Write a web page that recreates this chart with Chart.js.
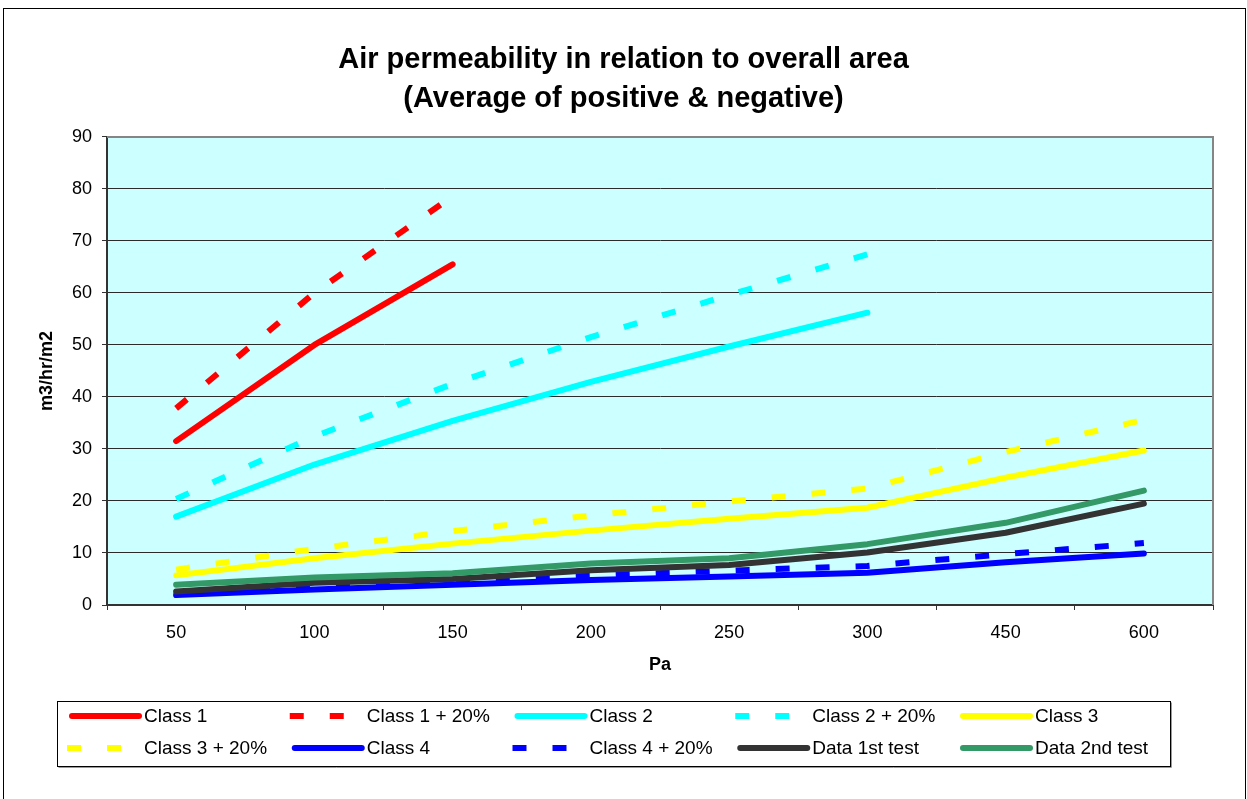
<!DOCTYPE html>
<html>
<head>
<meta charset="utf-8">
<title>Air permeability</title>
<script src="https://cdn.jsdelivr.net/npm/chart.js@4.4.1/dist/chart.umd.min.js"></script>
<style>
  html, body { margin: 0; padding: 0; background: #fff; }
  #wrap { position: relative; width: 1247px; height: 799px; overflow: hidden; }
  #wrap canvas { position: absolute; left: 0; top: 0; }
  #frame { position: absolute; left: 3px; top: 8px; width: 1243px; height: 830px;
           border: 1px solid #000; box-sizing: border-box; pointer-events: none; }
</style>
</head>
<body>
<div id="wrap">
  <canvas id="chart" width="1247" height="799"></canvas>
  <div id="frame"></div>
</div>
<script>
// Test pressures (Pa) along the category axis
const pressures = ['50', '100', '150', '200', '250', '300', '450', '600'];

// Air permeability, m3/hr/m2, per pressure step
const class1      = [31.5, 50.0, 65.5, null, null, null, null, null];
const class1Plus  = [37.8, 60.0, 78.6, null, null, null, null, null];
const class2      = [17.0, 27.0, 35.4, 42.9, 49.7, 56.2, null, null];
const class2Plus  = [20.4, 32.4, 42.5, 51.5, 59.6, 67.4, null, null];
const class3      = [5.7, 9.0, 11.8, 14.3, 16.6, 18.7, 24.5, 29.7];
const class3Plus  = [6.8, 10.8, 14.2, 17.2, 19.9, 22.4, 29.4, 35.6];
const class4      = [1.9, 3.0, 3.9, 4.8, 5.5, 6.2, 8.2, 9.9];
const class4Plus  = [2.3, 3.6, 4.7, 5.7, 6.6, 7.5, 9.8, 11.9];
const firstTest   = [2.6, 4.3, 5.0, 6.7, 7.7, 10.1, 13.9, 19.5];
const secondTest  = [3.9, 5.3, 6.1, 8.0, 9.0, 11.7, 15.8, 22.0];

const seriesNames  = ['Class 1', 'Class 1 + 20%', 'Class 2', 'Class 2 + 20%', 'Class 3',
                      'Class 3 + 20%', 'Class 4', 'Class 4 + 20%', 'Data 1st test', 'Data 2nd test'];
const seriesValues = [class1, class1Plus, class2, class2Plus, class3,
                      class3Plus, class4, class4Plus, firstTest, secondTest];
const seriesColors = ['#FF0000', '#FF0000', '#00FFFF', '#00FFFF', '#FFFF00',
                      '#FFFF00', '#0000FF', '#0000FF', '#333333', '#339966'];
const seriesDashed = [false, true, false, true, false, true, false, true, false, false];

const yTicks = { min: 0, max: 90, step: 10 };

const DASH = [14, 26];
const FONT = 'Arial, "Liberation Sans", Helvetica, sans-serif';
Chart.defaults.font.family = FONT;
Chart.defaults.color = '#000';

const datasets = seriesNames.map((name, i) => ({
  label: name,
  data: seriesValues[i],
  borderColor: seriesColors[i],
  backgroundColor: seriesColors[i],
  borderWidth: 6,
  borderDash: seriesDashed[i] ? DASH : [],
  borderCapStyle: seriesDashed[i] ? 'butt' : 'round',
  borderJoinStyle: 'round',
  pointRadius: 0,
  pointHoverRadius: 0,
  fill: false,
  tension: 0,
  spanGaps: false,
  order: seriesNames.length - 1 - i
}));

// Plot area fill plus the grey frame on its top and right edges
const plotFrame = {
  id: 'plotFrame',
  beforeDraw(chart) {
    const { ctx, chartArea: a } = chart;
    ctx.save();
    ctx.fillStyle = '#CCFFFF';
    ctx.fillRect(a.left, a.top, a.right - a.left, a.bottom - a.top);
    ctx.restore();
  },
  beforeDatasetsDraw(chart) {
    const { ctx, chartArea: a } = chart;
    ctx.save();
    ctx.strokeStyle = '#858585';
    ctx.lineWidth = 2;
    ctx.beginPath();
    ctx.moveTo(a.left, a.top);
    ctx.lineTo(a.right, a.top);
    ctx.lineTo(a.right, a.bottom);
    ctx.stroke();
    ctx.restore();
  }
};

// Boxed legend below the axis: five entries per row
const boxedLegend = {
  id: 'boxedLegend',
  afterDraw(chart) {
    const { ctx } = chart;
    const box = { x: 57, y: 701, w: 1113, h: 65 };
    ctx.save();
    ctx.fillStyle = '#fff';
    ctx.fillRect(box.x, box.y, box.w, box.h);
    ctx.strokeStyle = '#9a9a9a';
    ctx.lineWidth = 1;
    ctx.beginPath();
    ctx.moveTo(box.x + 1.5, box.y + box.h + 1.5);
    ctx.lineTo(box.x + box.w + 1.5, box.y + box.h + 1.5);
    ctx.lineTo(box.x + box.w + 1.5, box.y + 1.5);
    ctx.stroke();
    ctx.strokeStyle = '#000';
    ctx.strokeRect(box.x + 0.5, box.y + 0.5, box.w, box.h);

    ctx.font = '19px ' + FONT;
    ctx.textBaseline = 'middle';
    ctx.textAlign = 'left';
    chart.data.datasets.forEach((ds, i) => {
      const col = i % 5, row = Math.floor(i / 5);
      const x0 = 68 + col * 222.75;
      const y = 716 + row * 32;
      ctx.strokeStyle = ds.borderColor;
      ctx.lineWidth = 6;
      ctx.beginPath();
      if (ds.borderDash.length) {
        ctx.setLineDash(DASH);
        ctx.lineCap = 'butt';
        ctx.moveTo(x0 - 1, y);
        ctx.lineTo(x0 + 74, y);
      } else {
        ctx.setLineDash([]);
        ctx.lineCap = 'round';
        ctx.moveTo(x0 + 4, y);
        ctx.lineTo(x0 + 71, y);
      }
      ctx.stroke();
      ctx.setLineDash([]);
      ctx.fillStyle = '#000';
      ctx.fillText(ds.label, x0 + 76, y + 1);
    });
    ctx.restore();
  }
};

new Chart(document.getElementById('chart'), {
  type: 'line',
  data: { labels: pressures, datasets },
  options: {
    responsive: false,
    animation: false,
    devicePixelRatio: 1,
    events: [],
    layout: { padding: 0 },
    plugins: {
      legend: { display: false },
      tooltip: { enabled: false },
      title: {
        display: true,
        text: ['Air permeability in relation to overall area', '(Average of positive & negative)'],
        color: '#000',
        font: { size: 29, weight: 'bold', lineHeight: 1.36 },
        padding: { top: 40, bottom: 18 }
      }
    },
    scales: {
      x: {
        type: 'category',
        offset: true,
        grid: { offset: true, drawOnChartArea: false, drawTicks: true, tickLength: 5, color: '#333', lineWidth: 1 },
        border: { display: true, color: '#333', width: 2 },
        ticks: { color: '#000', font: { size: 18 }, padding: 12, maxRotation: 0, autoSkip: false },
        title: { display: true, text: 'Pa', color: '#000', font: { size: 18, weight: 'bold' }, padding: { top: 0, bottom: 123 } },
        afterFit(s) { s.height = 194; }
      },
      y: {
        position: 'left',
        min: yTicks.min,
        max: yTicks.max,
        ticks: { stepSize: yTicks.step, color: '#000', font: { size: 18 }, padding: 10 },
        grid: {
          color: (c) => (c.tick && (c.tick.value === yTicks.min || c.tick.value === yTicks.max)) ? 'rgba(0,0,0,0)' : '#2b2b2b',
          tickColor: '#333',
          tickLength: 5,
          lineWidth: 1
        },
        border: { display: true, color: '#333', width: 2 },
        title: { display: true, text: 'm3/hr/m2', color: '#000', font: { size: 18, weight: 'bold' }, padding: { top: 36, bottom: 0 } },
        afterFit(s) { s.width = 107; }
      },
      yRight: {
        position: 'right',
        display: true,
        grid: { display: false },
        ticks: { display: false },
        border: { display: false },
        afterFit(s) { s.width = 34; }
      }
    }
  },
  plugins: [plotFrame, boxedLegend]
});
</script>
</body>
</html>
